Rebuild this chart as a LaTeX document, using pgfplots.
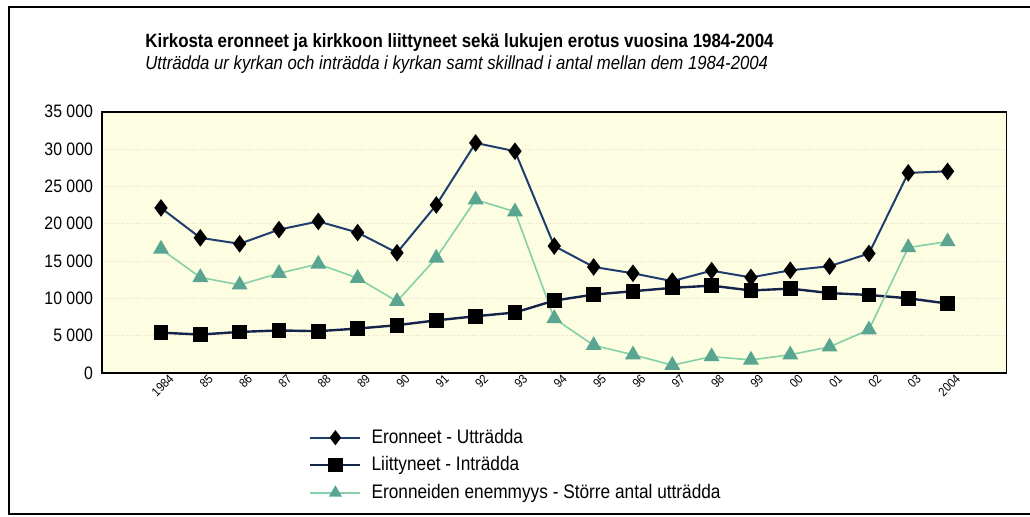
\documentclass[border=0pt]{standalone}
\usepackage{fontspec}
\setmainfont{Liberation Sans}[FakeStretch=0.88]
\usepackage{pgfplots}
\pgfplotsset{compat=1.18}
\definecolor{bgy}{HTML}{FDFDE2}
\definecolor{eroline}{HTML}{1F3D6E}
\definecolor{liitline}{HTML}{14234A}
\definecolor{grline}{HTML}{86D0A8}
\definecolor{grmark}{HTML}{5AA592}
\definecolor{gridc}{HTML}{EAD9CF}
\begin{document}
\begin{tikzpicture}
\path[use as bounding box] (0,0) rectangle (515pt,258pt);
\draw[line width=1pt] (515pt,254.5pt) -- (4.5pt,254.5pt) -- (4.5pt,1pt) -- (515pt,1pt);
\node[anchor=base west,inner sep=0pt] at (72.5pt,234.5pt) {\bfseries\fontsize{9.6}{11}\selectfont Kirkosta eronneet ja kirkkoon liittyneet sekä lukujen erotus vuosina 1984-2004};
\node[anchor=base west,inner sep=0pt] at (72.5pt,223.5pt) {\itshape\fontsize{9.5}{11}\selectfont Utträdda ur kyrkan och inträdda i kyrkan samt skillnad i antal mellan dem 1984-2004};
\begin{axis}[
  scale only axis,
  width=452.3pt, height=130.7pt,
  at={(51pt,71.5pt)}, anchor=south west,
  axis background/.style={fill=bgy},
  axis line style={line width=0.9pt},
  xmin=-1.5, xmax=21.5,
  ymin=0, ymax=35000,
  xtick={0,...,20},
  xticklabels={1984,85,86,87,88,89,90,91,92,93,94,95,96,97,98,99,00,01,02,03,2004},
  ytick={0,5000,10000,15000,20000,25000,30000,35000},
  yticklabels={0,5 000,10 000,15 000,20 000,25 000,30 000,35 000},
  major tick length=0pt,
  scaled y ticks=false,
  yticklabel style={font=\fontsize{9}{10}\selectfont, xshift=-1pt},
  xticklabel style={font=\fontsize{6.3}{7}\selectfont, rotate=45, anchor=east, yshift=-5pt, xshift=3pt, inner sep=0.5pt},
  ymajorgrids,
  grid style={gridc, densely dotted, line width=0.4pt},
  legend style={draw=none, fill=none, at={(0.222,-0.19)}, anchor=north west,
     font=\fontsize{9.8}{10}\selectfont, row sep=3.2pt, column sep=4pt,
     nodes={inner sep=1pt}},
  legend cell align=left,
  legend image code/.code={\draw[#1] (0pt,0pt) -- (25pt,0pt); \draw[#1,mark repeat=2,mark phase=2,mark size=3pt] plot coordinates {(0pt,0pt) (12.5pt,0pt) (25pt,0pt)};},
]
\addplot[eroline, line width=1pt, mark=diamond*, mark size=3.6pt, mark options={fill=black, draw=black, solid}] coordinates {
(0,22100) (1,18100) (2,17300) (3,19200) (4,20300) (5,18800) (6,16100) (7,22500) (8,30800) (9,29700) (10,17000) (11,14200) (12,13350) (13,12300) (14,13700) (15,12800) (16,13750) (17,14300) (18,16000) (19,26800) (20,27000)};
\addlegendentry{Eronneet - Utträdda}
\addplot[liitline, line width=1.2pt, mark=square*, mark size=3.1pt, mark options={fill=black, draw=black, solid}] coordinates {
(0,5400) (1,5150) (2,5500) (3,5700) (4,5600) (5,5950) (6,6400) (7,7050) (8,7600) (9,8100) (10,9700) (11,10500) (12,10950) (13,11400) (14,11700) (15,11050) (16,11300) (17,10700) (18,10450) (19,10000) (20,9300)};
\addlegendentry{Liittyneet - Inträdda}
\addplot[grline, line width=0.8pt, mark=triangle*, mark size=3.8pt, mark options={fill=grmark, draw=grmark, solid}] coordinates {
(0,16600) (1,12800) (2,11800) (3,13350) (4,14600) (5,12700) (6,9600) (7,15400) (8,23200) (9,21600) (10,7300) (11,3700) (12,2450) (13,1050) (14,2200) (15,1750) (16,2450) (17,3500) (18,5800) (19,16800) (20,17600)};
\addlegendentry{Eronneiden enemmyys - Större antal utträdda}
\end{axis}
\end{tikzpicture}
\end{document}
